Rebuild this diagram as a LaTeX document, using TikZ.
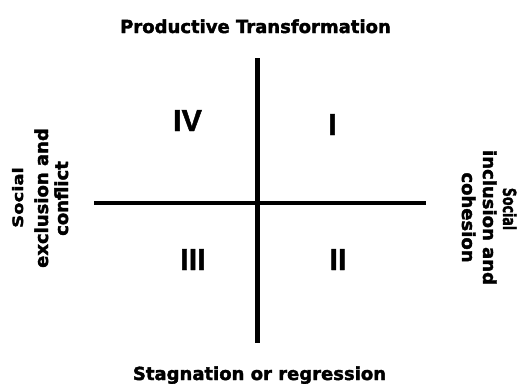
\documentclass[tikz,border=0pt]{standalone}
\usepackage{fontspec}
\setmainfont{DejaVu Sans}[BoldFeatures={FakeBold=2}]
\newfontfamily\numfont{Liberation Sans}[BoldFeatures={FakeBold=1.5}]
\begin{document}
\begin{tikzpicture}[x=1pt,y=-1pt,
  lbl/.style={font=\bfseries\fontsize{18}{22}\selectfont, inner sep=0pt, anchor=base},
  num/.style={font=\numfont\bfseries\fontsize{30.5}{32}\selectfont, inner sep=0pt, anchor=base},
  axisline/.style={line width=4.5pt, black}]
\useasboundingbox[fill=white] (0,0) rectangle (518,383);
% axes
\coordinate (top) at (257.5,58);
\coordinate (bot) at (257.5,343);
\coordinate (lft) at (94,203);
\coordinate (rgt) at (426,203);
\draw[axisline] (top) -- (bot);
\draw[axisline] (lft) -- (rgt);
% titles
\node[lbl] (ttop) at (255.5,33) {Productive Transformation};
\node[lbl] (tbot) at (259.5,380) {Stagnation or regression};
% left
\node[lbl, rotate=90] (l1) at (23,197.5) {\scalebox{1}[0.8]{Social}};
\node[lbl, rotate=90] (l2) at (48,198) {exclusion and};
\node[lbl, rotate=90] (l3) at (68,198.5) {conflict};
% right
\node[lbl, rotate=-90] (r1) at (503,209) {\scalebox{0.7}[1]{Social}};
\node[lbl, rotate=-90] (r2) at (483,217.5) {inclusion and};
\node[lbl, rotate=-90] (r3) at (462,217.5) {cohesion};
% numerals
\node[num] (q4) at (187.5,131) {IV};
\node[num] (q1) at (332.5,135) {I};
\node[num] (q3) at (193,270) {III};
\node[num] (q2) at (338,270) {II};
\end{tikzpicture}
\end{document}
